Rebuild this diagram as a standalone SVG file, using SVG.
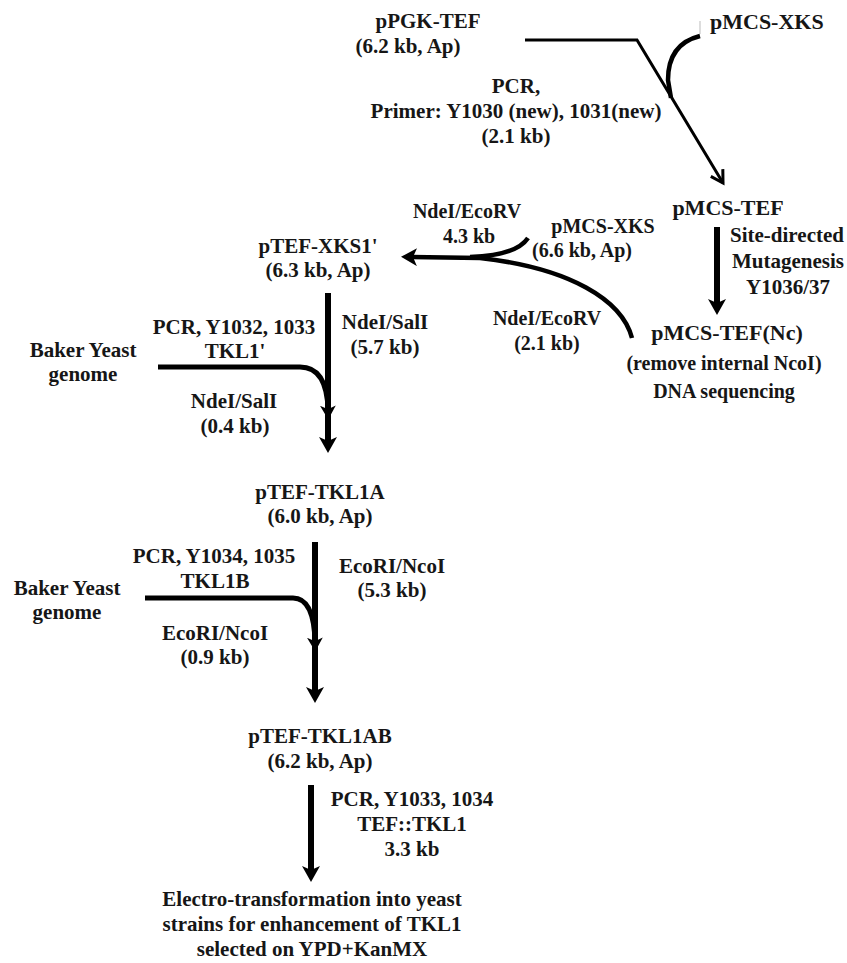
<svg xmlns="http://www.w3.org/2000/svg" width="847" height="963" viewBox="0 0 847 963">
<style>
text{font-family:"Liberation Serif","Times New Roman",serif;font-weight:bold;font-size:21px;fill:#161616;text-anchor:middle}
.big{font-size:22px}
.sm{font-size:20px}
.ln{fill:none;stroke:#000;stroke-linecap:butt;stroke-linejoin:miter}
.thin{stroke-width:3}
.mid{stroke-width:4.5}
.cur{stroke-width:5}
.thick{stroke-width:6}
</style>
<defs>
<marker id="ah" markerUnits="userSpaceOnUse" viewBox="0 0 16 18" refX="6" refY="9" markerWidth="16" markerHeight="18" orient="auto">
<path d="M0,0 L16,9 L0,18 L4,9 Z" fill="#000"/>
</marker>
<marker id="ahs" markerUnits="userSpaceOnUse" viewBox="0 0 16 18" refX="5" refY="9" markerWidth="14" markerHeight="16" orient="auto">
<path d="M0,0 L16,9 L0,18 L4,9 Z" fill="#000"/>
</marker>
<marker id="ahopen" markerUnits="userSpaceOnUse" viewBox="0 0 16 16" refX="14" refY="8" markerWidth="16" markerHeight="16" orient="auto" overflow="visible">
<path d="M2,1 L14,8 L2,15" fill="none" stroke="#000" stroke-width="3"/>
</marker>
</defs>
<rect width="847" height="963" fill="#fff"/>
<g id="connectors">
<path class="ln thin" d="M525,40 L637,40 L723,183" marker-end="url(#ahopen)"/>
<line x1="700" y1="21" x2="700" y2="34" stroke="#bbb" stroke-width="1"/>
<path class="ln mid" d="M700,36 Q668,44 668,80 L671,98"/>
<path class="ln thick" d="M717,227 L717,305" marker-end="url(#ah)"/>
<path class="ln mid" d="M528,238 C520,250 500,256 470,257"/>
<path class="ln mid" d="M632,338 C622,300 570,268 480,258 L411,257" marker-end="url(#ah)"/>
<path class="ln thick" d="M328,293 L328,443" marker-end="url(#ah)"/>
<path class="ln cur" d="M158,367 L300,367 Q327,367 328,410" marker-end="url(#ahs)"/>
<path class="ln thick" d="M315,542 L315,693" marker-end="url(#ah)"/>
<path class="ln cur" d="M145,598 L293,598 Q314,598 315,642" marker-end="url(#ahs)"/>
<path class="ln thick" d="M311,785 L311,872" marker-end="url(#ah)"/>
</g>
<g id="edge-labels">
<text x="516" y="93">PCR,</text>
<text x="516" y="118">Primer: Y1030 (new), 1031(new)</text>
<text x="516" y="143">(2.1 kb)</text>
<text x="787" y="242">Site-directed</text>
<text x="788" y="268">Mutagenesis</text>
<text x="788" y="294">Y1036/37</text>
<text class="sm" x="467" y="218">NdeI/EcoRV</text>
<text class="sm" x="469" y="243">4.3 kb</text>
<text class="sm" x="547" y="325">NdeI/EcoRV</text>
<text class="sm" x="547" y="350">(2.1 kb)</text>
<text x="385" y="329">NdeI/SalI</text>
<text x="385" y="354">(5.7 kb)</text>
<text x="234" y="334">PCR, Y1032, 1033</text>
<text x="235" y="358">TKL1'</text>
<text x="234" y="408">NdeI/SalI</text>
<text x="235" y="433">(0.4 kb)</text>
<text x="214" y="563">PCR, Y1034, 1035</text>
<text x="215" y="588">TKL1B</text>
<text x="392" y="573">EcoRI/NcoI</text>
<text x="392" y="597">(5.3 kb)</text>
<text x="215" y="640">EcoRI/NcoI</text>
<text x="215" y="664">(0.9 kb)</text>
<text x="412" y="806">PCR, Y1033, 1034</text>
<text x="412" y="831">TEF::TKL1</text>
<text x="412" y="856">3.3 kb</text>
</g>
<g id="pPGK-TEF">
<text x="428" y="28">pPGK-TEF</text>
<text x="408" y="53">(6.2 kb, Ap)</text>
</g>
<g id="pMCS-XKS-top">
<text class="big" x="710" y="29" style="text-anchor:start">pMCS-XKS</text>
</g>
<g id="pMCS-TEF">
<text class="big" x="728" y="215">pMCS-TEF</text>
</g>
<g id="pMCS-TEF-Nc">
<text class="big" x="727" y="340">pMCS-TEF(Nc)</text>
<text class="sm" x="724" y="370">(remove internal NcoI)</text>
<text class="sm" x="724" y="398">DNA sequencing</text>
</g>
<g id="pMCS-XKS">
<text class="sm" x="603" y="233">pMCS-XKS</text>
<text class="sm" x="582" y="257">(6.6 kb, Ap)</text>
</g>
<g id="pTEF-XKS1">
<text x="318" y="253">pTEF-XKS1'</text>
<text x="318" y="277">(6.3 kb, Ap)</text>
</g>
<g id="baker-yeast-1">
<text x="83" y="357">Baker Yeast</text>
<text x="83" y="381">genome</text>
</g>
<g id="pTEF-TKL1A">
<text x="320" y="499">pTEF-TKL1A</text>
<text x="320" y="523">(6.0 kb, Ap)</text>
</g>
<g id="baker-yeast-2">
<text x="67" y="595">Baker Yeast</text>
<text x="67" y="619">genome</text>
</g>
<g id="pTEF-TKL1AB">
<text x="320" y="743">pTEF-TKL1AB</text>
<text x="320" y="768">(6.2 kb, Ap)</text>
</g>
<g id="electro-transformation">
<text x="312" y="906">Electro-transformation into yeast</text>
<text x="312" y="931">strains for enhancement of TKL1</text>
<text x="312" y="956">selected on YPD+KanMX</text>
</g>
</svg>
